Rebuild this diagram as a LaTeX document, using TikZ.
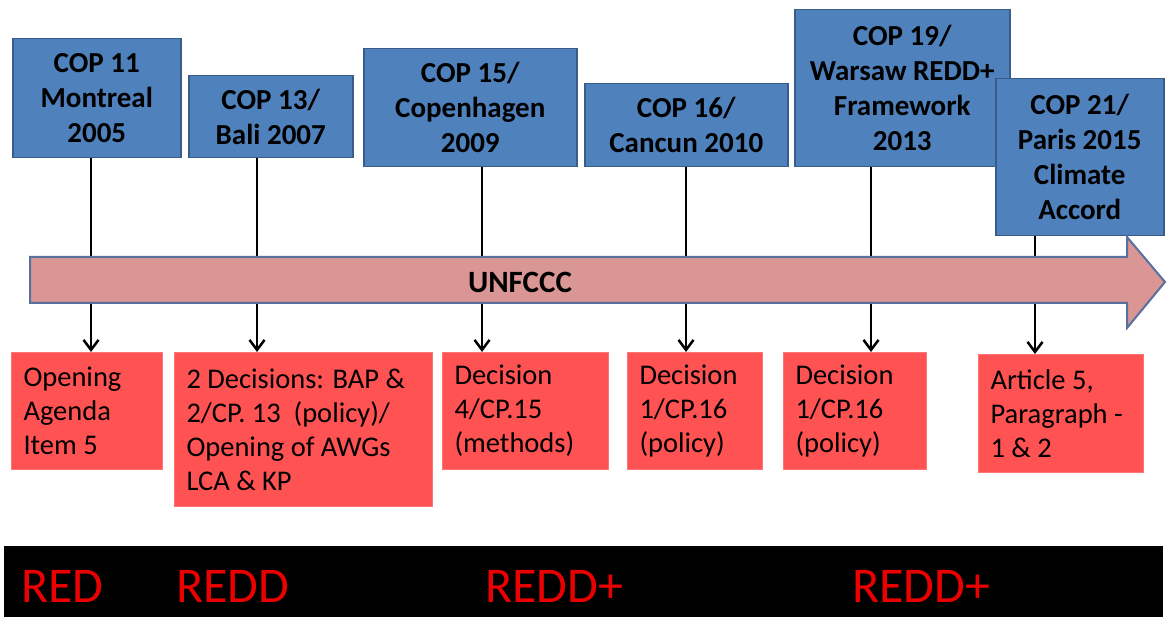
\documentclass[tikz,border=0pt]{standalone}
\usepackage{fontspec}
\setmainfont{Carlito}
\usetikzlibrary{arrows.meta}
\definecolor{copblue}{RGB}{79,129,189}
\definecolor{copedge}{RGB}{56,93,138}
\definecolor{decred}{RGB}{255,82,82}
\definecolor{bandpink}{RGB}{217,150,148}
\definecolor{bandedge}{RGB}{88,112,158}
\definecolor{stagered}{RGB}{235,0,0}
\tikzset{
  cop/.style 2 args={draw=copedge, fill=copblue, line width=1.5pt,
    minimum width=#1, minimum height=#2, inner sep=0pt, anchor=north west,
    align=center, font=\fontsize{29}{35}\selectfont\bfseries},
  decision/.style 2 args={draw=decred!80!white, fill=decred, line width=1pt,
    text width=#1, minimum height=#2, inner xsep=12pt, inner ysep=0pt,
    anchor=north west, align=flush left, font=\fontsize{28.5}{34}\selectfont},
  stage/.style={text=stagered, inner sep=0pt, anchor=base west,
    font=\fontsize{50}{60}\selectfont},
  link/.style={line width=2.5pt, -{Straight Barb[length=10pt,width=15pt]}}
}

\begin{document}
\begin{tikzpicture}[x=1pt, y=-1pt]
\useasboundingbox (0,0) rectangle (1167,617);
% conferences
\node[cop={168pt}{119pt}] (cop11) at (12,38) {COP 11\\Montreal\\2005};
\node[cop={164pt}{82pt}] (cop13) at (188,75) {COP 13/\\Bali 2007};
\node[cop={213pt}{118pt}] (cop15) at (363,48) {COP 15/\\Copenhagen\\2009};
\node[cop={203pt}{83pt}] (cop16) at (584,83) {COP 16/\\Cancun 2010};
\node[cop={215pt}{157pt}] (cop19) at (794,9) {COP 19/\\Warsaw REDD+\\Framework\\2013};
\node[cop={168pt}{157pt}] (cop21) at (995,78) {COP 21/\\Paris 2015\\Climate\\Accord};
% decisions
\node[decision={127pt}{117pt}] (dec11) at (11,352) {Opening\\Agenda\\Item 5};
\node[decision={234pt}{154pt}] (dec13) at (174,352) {2 Decisions: BAP \&\\2/CP. 13~~(policy)/\\Opening of AWGs\\LCA \& KP};
\node[decision={142pt}{117pt}] (dec15) at (442,352) {Decision\\4/CP.15\\(methods)};
\node[decision={111pt}{117pt}] (dec16) at (627,352) {Decision\\1/CP.16\\(policy)};
\node[decision={119pt}{117pt}] (dec19) at (783,352) {Decision\\1/CP.16\\(policy)};
\node[decision={141pt}{118pt}] (dec21) at (978,354) {Article 5,\\Paragraph -\\1 \& 2};
% links
\foreach \a/\b/\x [count=\i] in {cop11/dec11/91, cop13/dec13/257, cop15/dec15/482,
    cop16/dec16/686, cop19/dec19/871, cop21/dec21/1035} {
  \coordinate (l\i) at (\x,0);
  \draw[link] (\a.south -| l\i) -- (\b.north -| l\i);
}
% timeline arrow
\draw[fill=bandpink, draw=bandedge, line width=2pt, line join=miter]
  (30,257) -- (1127,257) -- (1127,237) -- (1165,282) -- (1127,328)
  -- (1127,303) -- (30,303) -- cycle;
\node[font=\fontsize{31}{37}\selectfont\bfseries] (unfccc) at (520,282) {UNFCCC};
% stages
\node[fill=black, minimum width=1159pt, minimum height=71pt, inner sep=0pt,
  anchor=north west] (band) at (4,546) {};
\node[stage] (red) at (21,602) {RED};
\node[stage] (redd) at (176,602) {REDD};
\node[stage] (reddplus) at (485,602) {REDD+};
\node[stage] (reddplus2) at (852,602) {REDD+};
\end{tikzpicture}
\end{document}
